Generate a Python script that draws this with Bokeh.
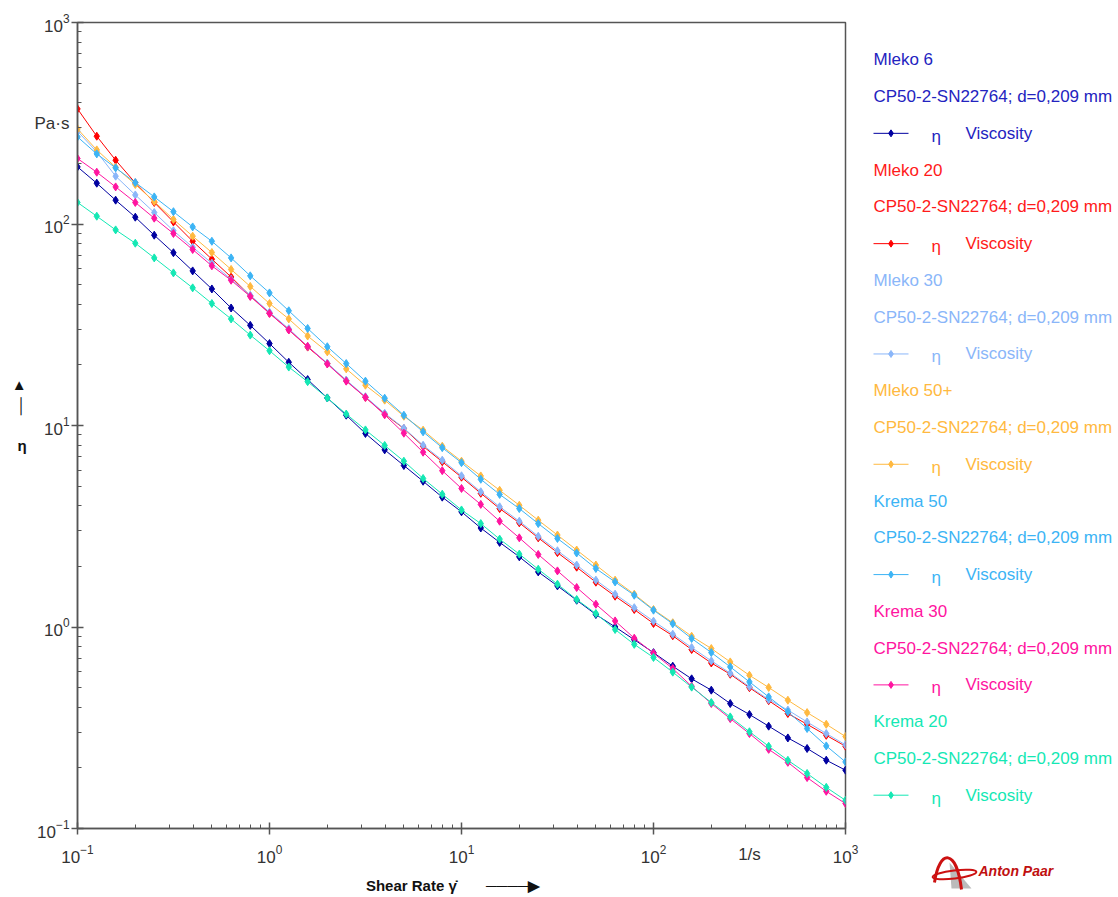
from bokeh.plotting import figure
from bokeh.layouts import row
from bokeh.models import Range1d, FixedTicker, ColumnDataSource, LogAxis
from bokeh.embed import file_html
from bokeh.resources import INLINE
from bokeh.core.properties import value

# ---------------- data ----------------
shear_rate = [0.1, 0.126, 0.158, 0.2, 0.251, 0.316, 0.398, 0.501, 0.631, 0.794,
              1.0, 1.26, 1.58, 2.0, 2.51, 3.16, 3.98, 5.01, 6.31, 7.94,
              10.0, 12.6, 15.8, 20.0, 25.1, 31.6, 39.8, 50.1, 63.1, 79.4,
              100.0, 126.0, 158.0, 200.0, 251.0, 316.0, 398.0, 501.0, 631.0, 794.0,
              1000.0]

mleko_6 = [192.0, 159.4, 131.3, 108.1, 88.0, 72.0, 58.5, 47.6, 38.3, 31.4,
           25.5, 20.6, 16.9, 13.7, 11.25, 9.13, 7.57, 6.33, 5.29, 4.41,
           3.73, 3.10, 2.63, 2.23, 1.877, 1.600, 1.358, 1.153, 1.001, 0.865,
           0.746, 0.639, 0.553, 0.486, 0.417, 0.368, 0.322, 0.2815, 0.2495, 0.2183,
           0.1947]

mleko_20 = [372.6, 272.7, 207.3, 160.0, 127.9, 102.4, 82.1, 66.9, 54.6, 44.0,
            36.1, 29.9, 24.5, 20.3, 16.7, 13.8, 11.4, 9.66, 7.89, 6.61,
            5.54, 4.61, 3.87, 3.29, 2.77, 2.34, 1.981, 1.669, 1.422, 1.221,
            1.041, 0.905, 0.773, 0.663, 0.583, 0.500, 0.431, 0.372, 0.329, 0.290,
            0.256]

mleko_30 = [288.7, 227.9, 172.7, 139.4, 114.0, 92.6, 76.7, 63.9, 53.2, 44.3,
            36.5, 30.2, 24.7, 20.4, 16.8, 13.9, 11.5, 9.70, 7.98, 6.73,
            5.63, 4.69, 3.95, 3.35, 2.82, 2.39, 2.03, 1.708, 1.455, 1.247,
            1.069, 0.921, 0.791, 0.679, 0.590, 0.506, 0.436, 0.387, 0.338, 0.296,
            0.260]

mleko_50 = [296.5, 233.2, 191.4, 157.0, 129.3, 105.4, 87.0, 72.2, 59.5, 49.0,
            40.3, 33.8, 27.8, 23.2, 19.1, 15.85, 13.36, 11.12, 9.48, 7.89,
            6.65, 5.62, 4.77, 4.02, 3.39, 2.86, 2.41, 2.03, 1.708, 1.455,
            1.221, 1.050, 0.900, 0.782, 0.671, 0.576, 0.501, 0.433, 0.376, 0.329,
            0.286]

krema_50 = [270.5, 222.8, 189.9, 160.7, 136.3, 115.1, 96.7, 82.1, 67.9, 55.3,
            45.5, 37.1, 30.3, 24.6, 20.3, 16.6, 13.66, 11.25, 9.30, 7.76,
            6.54, 5.41, 4.55, 3.87, 3.26, 2.75, 2.33, 1.951, 1.674, 1.438,
            1.212, 1.038, 0.877, 0.747, 0.634, 0.534, 0.450, 0.379, 0.3135, 0.257,
            0.214]

krema_30 = [211.4, 180.7, 152.8, 127.9, 106.9, 89.7, 74.7, 62.0, 52.6, 43.7,
            36.0, 29.8, 24.7, 20.2, 16.6, 13.8, 11.3, 9.16, 7.37, 5.97,
            4.87, 4.06, 3.35, 2.77, 2.29, 1.899, 1.570, 1.297, 1.072, 0.880,
            0.741, 0.622, 0.508, 0.417, 0.351, 0.296, 0.247, 0.213, 0.179, 0.153,
            0.133]

krema_20 = [127.9, 109.3, 93.5, 80.3, 67.9, 57.2, 48.2, 40.3, 33.8, 28.1,
            23.5, 19.5, 16.5, 13.7, 11.4, 9.51, 7.96, 6.65, 5.46, 4.56,
            3.81, 3.26, 2.73, 2.30, 1.935, 1.631, 1.369, 1.167, 0.972, 0.820,
            0.706, 0.597, 0.503, 0.422, 0.358, 0.302, 0.256, 0.218, 0.1875, 0.160,
            0.138]

series_names = ["Mleko 6", "Mleko 20", "Mleko 30", "Mleko 50+",
                "Krema 50", "Krema 30", "Krema 20"]
series_values = [mleko_6, mleko_20, mleko_30, mleko_50, krema_50, krema_30, krema_20]
series_colors = ["#0000A0", "#FF0000", "#8AB6F9", "#FFB940",
                 "#3CB4F5", "#FF14A0", "#14E8B4"]
text_colors = ["#2323C0", "#FF1A1A", "#8AB6F9", "#FFB940",
               "#3CB4F5", "#FF14A0", "#14E8B4"]
geometry_label = "CP50-2-SN22764; d=0,209 mm"
quantity_symbol = "\u03b7"
quantity_name = "Viscosity"
decades = [0.1, 1.0, 10.0, 100.0, 1000.0]
unit_pos = 10 ** 2.5          # where the unit labels sit in the tick-label rows
minor = [k * 10.0 ** e for e in range(-1, 3) for k in range(2, 10)]
x_unit = "1/s"
y_unit = "Pa\u00b7s"
NB = "\u00a0"
x_title = "Shear Rate \u03b3\u0307" + NB * 7 + "\u2500" * 4 + "\u25b6" + NB * 4
y_title = "\u25b2\n\u2502\n\n" + quantity_symbol + "\n" + NB

FONT = "Liberation Sans"
AXIS_COL = "#555555"
H = 897

# ---------------- main plot ----------------
p = figure(width=861, height=H, x_axis_type="log", y_axis_type="log",
           x_range=Range1d(0.1, 1000), y_range=Range1d(0.1, 1000),
           output_backend="svg", toolbar_location=None,
           min_border_left=77, min_border_right=16,
           min_border_top=22, min_border_bottom=69)
p.grid.visible = False
p.outline_line_color = AXIS_COL
p.outline_line_width = 1.5
p.background_fill_color = "white"
p.border_fill_color = "white"
p.frame_align = False

# inner axes: tick marks only (labels made tiny and transparent)
for ax in (p.xaxis[0], p.yaxis[0]):
    ax.ticker = FixedTicker(ticks=decades, minor_ticks=minor)
    ax.axis_line_color = AXIS_COL
    ax.axis_line_width = 1.5
    ax.major_tick_line_color = AXIS_COL
    ax.major_tick_line_width = 1.5
    ax.minor_tick_line_color = AXIS_COL
    ax.minor_tick_line_width = 1
    ax.major_tick_in = 6
    ax.major_tick_out = 6
    ax.minor_tick_in = 4
    ax.minor_tick_out = 0
    ax.major_label_text_font_size = "1px"
    ax.major_label_text_alpha = 0
    ax.major_label_standoff = 0

# outer axes: tick labels (10^n with superscripts, plus the unit label) and titles
def label_axis(standoff, unit_text, title, title_standoff, orientation="parallel"):
    return LogAxis(ticker=FixedTicker(ticks=[unit_pos] + decades),
                   major_label_overrides={unit_pos: unit_text},
                   axis_line_color=None, major_tick_line_color=None,
                   minor_tick_line_color=None,
                   major_tick_in=0, major_tick_out=0, minor_tick_in=0, minor_tick_out=0,
                   major_label_standoff=standoff,
                   major_label_text_font=FONT, major_label_text_font_size="17px",
                   major_label_text_color="#333333",
                   axis_label=title, axis_label_standoff=title_standoff,
                   axis_label_text_font=FONT, axis_label_text_font_size="15px",
                   axis_label_text_font_style="bold", axis_label_text_color="#111111",
                   axis_label_orientation=orientation)

p.add_layout(label_axis(10, x_unit, x_title, 10), "below")
p.add_layout(label_axis(2, y_unit, y_title, 5, orientation="horizontal"), "left")

for vals, col in zip(series_values, series_colors):
    src = ColumnDataSource(dict(x=shear_rate, y=vals))
    p.line("x", "y", source=src, line_color=col, line_width=1)
    p.scatter("x", "y", source=src, marker="diamond", size=8,
              fill_color=col, line_color=col)

# ---------------- legend panel ----------------
SW = 1118 - 861
s = figure(width=SW, height=H, x_range=Range1d(0, SW), y_range=Range1d(H, 0),
           output_backend="svg", toolbar_location=None, min_border=0,
           x_axis_location=None, y_axis_location=None)
s.grid.visible = False
s.outline_line_color = None
s.background_fill_color = "white"
s.border_fill_color = "white"
s.frame_align = False

row_step = 36.77
top = 59.3
for k, (name, col, tcol) in enumerate(zip(series_names, series_colors, text_colors)):
    y0 = top + 3 * k * row_step
    s.text(x=[12, 12], y=[y0, y0 + row_step], text=[name, geometry_label],
           text_color=tcol, text_font=value(FONT), text_font_size="17px",
           text_baseline="middle", text_align="left")
    y2 = y0 + 2 * row_step
    s.line(x=[12, 47], y=[y2, y2], line_color=col, line_width=1)
    s.scatter(x=[29.5], y=[y2], marker="diamond", size=7, fill_color=col, line_color=col)
    s.text(x=[70], y=[y2 + 3], text=[quantity_symbol], text_color=tcol,
           text_font=value(FONT), text_font_size="17px", text_baseline="middle")
    s.text(x=[104], y=[y2], text=[quantity_name], text_color=tcol,
           text_font=value(FONT), text_font_size="17px", text_baseline="middle")

# Anton Paar logo (approximation)
s.patch(x=[88, 110, 90], y=[862, 888, 888], fill_color="#BBBBBB", line_color=None)
s.bezier(x0=[73], y0=[882], x1=[100], y1=[889], cx0=[78], cy0=[848], cx1=[95], cy1=[848],
         line_color="#CC1111", line_width=3)
s.ellipse(x=[93], y=[874], width=[44], height=[8], angle=[0.12],
          fill_color=None, line_color="#CC1111", line_width=2)
s.text(x=[117], y=[870], text=["Anton Paar"], text_color="#C01010",
       text_font=value(FONT), text_font_size="14px", text_font_style="bold italic",
       text_baseline="middle")

layout = row(p, s)
open("out.html", "w").write(file_html(layout, INLINE))
